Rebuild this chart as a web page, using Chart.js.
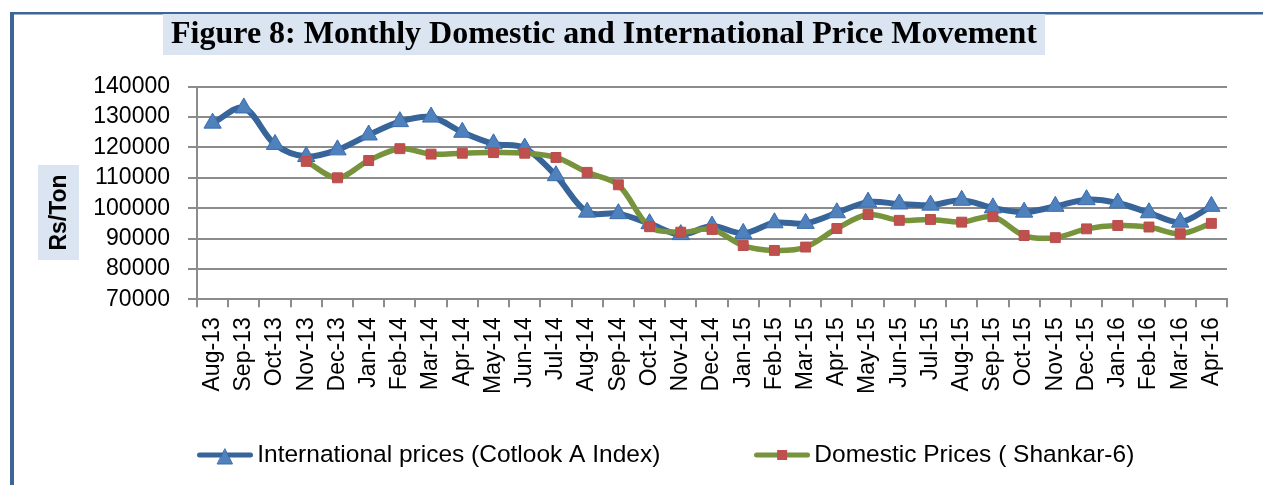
<!DOCTYPE html>
<html>
<head>
<meta charset="utf-8">
<script src="https://cdn.jsdelivr.net/npm/chart.js@4.4.1/dist/chart.umd.min.js"></script>
<style>
    html, body { margin: 0; padding: 0; background: #fff; }
    #priceChart { display: block; }
</style>
</head>
<body>
<canvas id="priceChart" width="1263" height="485"></canvas>
<script>
const months = [
    'Aug-13', 'Sep-13', 'Oct-13', 'Nov-13', 'Dec-13',
    'Jan-14', 'Feb-14', 'Mar-14', 'Apr-14', 'May-14', 'Jun-14', 'Jul-14', 'Aug-14', 'Sep-14', 'Oct-14', 'Nov-14', 'Dec-14',
    'Jan-15', 'Feb-15', 'Mar-15', 'Apr-15', 'May-15', 'Jun-15', 'Jul-15', 'Aug-15', 'Sep-15', 'Oct-15', 'Nov-15', 'Dec-15',
    'Jan-16', 'Feb-16', 'Mar-16', 'Apr-16'
];

const internationalPrices = [
    128000, 133000, 121000, 117000, 119200,
    124100, 128500, 130000, 125000, 121200, 119800, 110700, 98700, 98200, 94900, 91300, 94100,
    91700, 95200, 95000, 98500, 102000, 101400, 101000, 102600, 100100, 98700, 100600, 102800,
    101700, 98500, 95400, 100600
];

const domesticPrices = [
    null, null, null, 115400, 110000,
    115700, 119600, 117800, 118100, 118300, 118100, 116700, 111800, 107700, 93900, 92100, 93000,
    87700, 86100, 87200, 93300, 97900, 96000, 96300, 95400, 97200, 91000, 90300, 93200,
    94300, 93800, 91600, 95000
];

const yTicks = [70000, 80000, 90000, 100000, 110000, 120000, 130000, 140000];

const seriesNames = ['International prices (Cotlook A Index)', 'Domestic Prices ( Shankar-6)'];

const blueLine = '#376499';
const greenLine = '#77933c';
const gridGray = '#8c8c8c';
const legendFont = 24.5;
const legendGap = 101.75;

// small line + marker pictures for the legend
const legendIcon = (lineColor, drawMarker) => {
    const c = document.createElement('canvas');
    c.width = 56;
    c.height = 24;
    const ctx = c.getContext('2d');
    ctx.strokeStyle = lineColor;
    ctx.lineWidth = 5;
    ctx.lineCap = 'round';
    ctx.beginPath();
    ctx.moveTo(2.5, 12);
    ctx.lineTo(53.5, 12);
    ctx.stroke();
    drawMarker(ctx);
    return c;
};

const legendIcons = [
    legendIcon(blueLine, ctx => {
        ctx.fillStyle = '#4f81bd';
        ctx.strokeStyle = '#3c6cae';
        ctx.lineWidth = 1;
        ctx.beginPath();
        ctx.moveTo(28, 6);
        ctx.lineTo(35.5, 21);
        ctx.lineTo(20.5, 21);
        ctx.closePath();
        ctx.fill();
        ctx.stroke();
    }),
    legendIcon(greenLine, ctx => {
        ctx.fillStyle = '#c0504d';
        ctx.fillRect(23, 7, 10, 10);
    })
];

const framePlugin = {
    id: 'frame',
    afterLayout(chart) {
        // title box sits left of centre in the original
        chart.titleBlock.left = 163;
        chart.titleBlock.right = 1045;
        // legend starts under the plot's left edge, one row
        const lg = chart.legend;
        lg.right = chart.width;
        lg.left = 2 * (chart.chartArea.left + 8) - legendGap - lg.right + lg.lineWidths[0];
        lg.top = 455 - legendGap - legendFont / 2;
        lg.bottom = chart.height;
    },
    beforeDraw(chart) {
        const ctx = chart.ctx;
        ctx.save();
        ctx.fillStyle = '#ffffff';
        ctx.fillRect(0, 0, chart.width, chart.height);
        ctx.fillStyle = '#3d6596';
        ctx.fillRect(10, 12, 4, chart.height - 12);
        ctx.fillRect(10, 12, chart.width - 10, 2.5);
        ctx.fillStyle = '#dbe5f1';
        ctx.fillRect(163, 14, 882, 41);
        ctx.fillRect(38, 165, 41, 95);
        ctx.translate(58.5, 212.5);
        ctx.rotate(-Math.PI / 2);
        ctx.fillStyle = '#000';
        ctx.font = 'bold 23px "Liberation Sans"';
        ctx.textAlign = 'center';
        ctx.textBaseline = 'middle';
        ctx.fillText('Rs/Ton', 0, 1);
        ctx.restore();
    }
};

Chart.defaults.font.family = '"Liberation Sans", Arial, sans-serif';
Chart.defaults.color = '#000';

const ctx = document.getElementById('priceChart').getContext('2d');
const priceChart = new Chart(ctx, {
    type: 'line',
    data: {
        labels: months,
        datasets: [{
            label: seriesNames[0],
            data: internationalPrices,
            borderColor: blueLine,
            borderWidth: 6,
            pointStyle: 'triangle',
            pointRadius: 10,
            pointBackgroundColor: '#4f81bd',
            pointBorderColor: '#3c6cae',
            pointBorderWidth: 1,
            tension: 0.33,
            order: 1
        }, {
            label: seriesNames[1],
            data: domesticPrices,
            borderColor: greenLine,
            borderWidth: 5.5,
            pointStyle: 'rect',
            pointRadius: 7,
            pointBackgroundColor: '#c0504d',
            pointBorderColor: '#b94d4a',
            pointBorderWidth: 1,
            tension: 0.33,
            order: 0
        }]
    },
    options: {
        responsive: false,
        animation: false,
        devicePixelRatio: 1,
        events: [],
        layout: {
            padding: { left: 38, right: 36, top: 14, bottom: 0 }
        },
        scales: {
            x: {
                offset: true,
                ticks: {
                    autoSkip: false,
                    minRotation: 90,
                    maxRotation: 90,
                    padding: 10,
                    font: { size: 23 }
                },
                grid: {
                    offset: true,
                    drawOnChartArea: false,
                    drawTicks: true,
                    tickLength: 8,
                    color: gridGray,
                    lineWidth: 2
                },
                border: { display: true, color: gridGray, width: 2 }
            },
            y: {
                min: yTicks[0],
                max: yTicks[yTicks.length - 1],
                afterBuildTicks: scale => {
                    scale.ticks = yTicks.map(v => ({ value: v }));
                },
                ticks: {
                    autoSkip: false,
                    padding: 18,
                    font: { size: 23 },
                    callback: v => String(v)
                },
                grid: {
                    color: gridGray,
                    lineWidth: 2,
                    tickLength: 9
                },
                border: { display: true, color: gridGray, width: 2 },
                afterFit: scale => { scale.width = 197 - 38; }
            }
        },
        plugins: {
            tooltip: { enabled: false },
            title: {
                display: true,
                text: 'Figure 8: Monthly Domestic and International Price Movement',
                color: '#000',
                font: { family: '"Liberation Serif", "Times New Roman", serif', size: 32, weight: 'bold', lineHeight: 1.2 },
                padding: { top: 2, bottom: 32.3 }
            },
            legend: {
                position: 'bottom',
                maxHeight: 81,
                labels: {
                    usePointStyle: true,
                    pointStyleWidth: 40,
                    padding: legendGap,
                    color: '#000',
                    font: { size: legendFont },
                    sort: (a, b) => a.datasetIndex - b.datasetIndex,
                    generateLabels: chart => Chart.defaults.plugins.legend.labels.generateLabels(chart)
                        .map(item => ({ ...item, pointStyle: legendIcons[item.datasetIndex] }))
                }
            }
        }
    },
    plugins: [framePlugin]
});
</script>
</body>
</html>
